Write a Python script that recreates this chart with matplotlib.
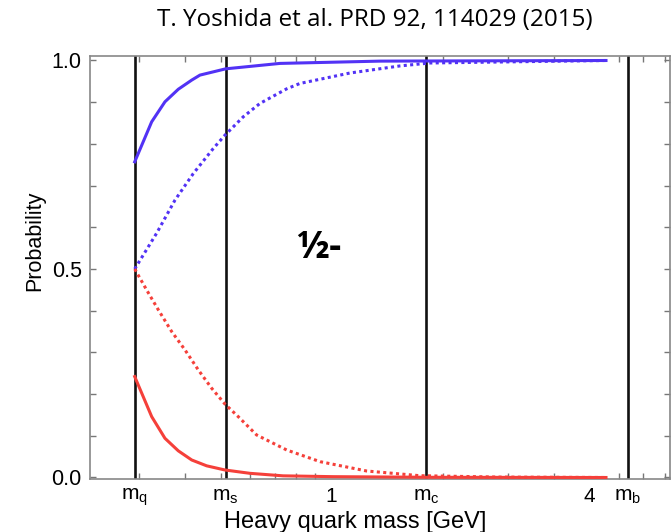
import matplotlib
matplotlib.use("Agg")
import matplotlib.pyplot as plt
from matplotlib.ticker import FixedLocator, NullFormatter

# ---- data ----
m_q, m_s, m_c, m_b = 0.2925, 0.516, 1.80, 6.34
xtick_pos = [m_q, m_s, 1.0, m_c, 5.0, m_b]
xtick_labels = [r"m$_\mathregular{q}$", r"m$_\mathregular{s}$", "1",
                r"m$_\mathregular{c}$", "4", r"m$_\mathregular{b}$"]
minor_x = [0.3, 0.4, 0.5, 0.6, 0.7, 0.8, 0.9, 1, 2, 3, 4, 5, 6, 7, 8]

blue_solid_x = [0.2925, 0.3252, 0.3533, 0.3839, 0.4175, 0.4396, 0.516, 0.724, 1.352, 5.54]
blue_solid_y = [0.757, 0.853, 0.901, 0.931, 0.953, 0.965, 0.980, 0.993, 0.9985, 1.0]

red_solid_x = [0.2925, 0.3252, 0.3533, 0.3839, 0.4175, 0.4583, 0.5138, 0.6006, 0.738, 1.008, 1.846, 5.54]
red_solid_y = [0.242, 0.146, 0.094, 0.064, 0.042, 0.028, 0.018, 0.010, 0.004, 0.002, 0.0005, 0.0]

blue_dot_x = [0.2925, 0.3355, 0.376, 0.4217, 0.4777, 0.5138, 0.576, 0.639, 0.755, 0.8205,
              1.121, 1.532, 1.846, 5.54]
blue_dot_y = [0.5, 0.586, 0.665, 0.729, 0.789, 0.821, 0.865, 0.897, 0.932, 0.945,
              0.97, 0.987, 0.994, 1.0]

red_dot_x = [0.2925, 0.315, 0.339, 0.3684, 0.4003, 0.435, 0.4729, 0.5138, 0.558, 0.626, 0.755,
             0.930, 1.244, 1.735, 2.858, 5.54]
red_dot_y = [0.5, 0.45, 0.402, 0.350, 0.306, 0.258, 0.214, 0.176, 0.146, 0.102, 0.066,
             0.038, 0.0156, 0.0043, 0.001, 0.0]

BLUE = "#5232f5"
RED = "#f5403a"

plt.rcParams["font.family"] = ["Liberation Sans", "DejaVu Sans"]
plt.rcParams["mathtext.fontset"] = "custom"
plt.rcParams["mathtext.rm"] = "Liberation Sans"
plt.rcParams["mathtext.it"] = "Liberation Sans"

fig = plt.figure(figsize=(6.71, 5.32), dpi=100)
W, H = 671.0, 532.0
ax = fig.add_axes([90 / W, 1 - 478.5 / H, (670 - 90) / W, (478.5 - 55.7) / H])

ax.set_xscale("log")
ax.set_xlim(0.2213, 8.26)
ax.set_ylim(-0.0024, 1.0115)

for xv in [m_q, m_s, m_c, m_b]:
    ax.axvline(xv, color="#111111", lw=1.9, zorder=1)

ax.plot(blue_solid_x, blue_solid_y, color=BLUE, lw=2.2, zorder=3)
ax.plot(red_solid_x, red_solid_y, color=RED, lw=2.2, zorder=3)
ax.plot(blue_dot_x, blue_dot_y, color=BLUE, lw=2.2, ls=(0, (1, 1.1)), zorder=3)
ax.plot(red_dot_x, red_dot_y, color=RED, lw=2.2, ls=(0, (1, 1.1)), zorder=3)

ax.text(0.925, 0.55, "½-", fontsize=27, fontweight="bold", family=["Open Sans", "DejaVu Sans"],
        ha="center", va="center")

# ticks
ax.xaxis.set_major_locator(FixedLocator(xtick_pos))
ax.set_xticklabels(xtick_labels, fontsize=15)
ax.xaxis.set_minor_locator(FixedLocator(minor_x))
ax.xaxis.set_minor_formatter(NullFormatter())
ax.tick_params(axis="x", which="major", length=0, pad=6)
ax.tick_params(axis="x", which="minor", direction="in", length=4, width=1,
               color="#777777", top=True, bottom=True)

ax.set_yticks([0.0, 0.5, 1.0])
ax.set_yticklabels(["0.0", "0.5", "1.0"], fontsize=15.5)
ax.set_yticks([i / 10 for i in range(11)], minor=True)
ax.tick_params(axis="y", which="both", direction="in", length=4, width=1,
               color="#777777", left=True, right=True, pad=6)

for sp in ax.spines.values():
    sp.set_color("#888888")
    sp.set_linewidth(1.2)

fig.text(35 / W, 1 - 241 / H, "Probability", rotation=90, fontsize=15.5,
         ha="center", va="center")
fig.text(355 / W, 1 - 522 / H, "Heavy quark mass [GeV]", fontsize=17,
         ha="center", va="center")
fig.text(375 / W, 1 - 20 / H, "T. Yoshida et al. PRD 92, 114029 (2015)", fontsize=17.5,
         family=["Open Sans", "DejaVu Sans"], ha="center", va="center")

fig.savefig("out.png", dpi=100)
